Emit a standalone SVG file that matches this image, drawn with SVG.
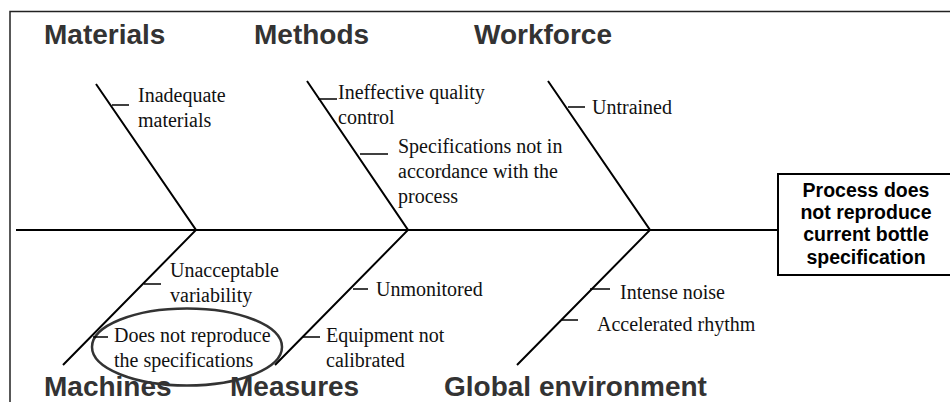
<svg xmlns="http://www.w3.org/2000/svg" width="950" height="402" viewBox="0 0 950 402">
  <style>
    .frame { fill: none; stroke: #222; stroke-width: 1.5; }
    .bone { fill: none; stroke: #000; stroke-width: 2; }
    .tick { fill: none; stroke: #000; stroke-width: 1.5; }
    .head { font-family: "Liberation Sans", Arial, sans-serif; font-weight: bold; font-size: 28px; fill: #333; }
    .cause { font-family: "Liberation Serif", "Times New Roman", "DejaVu Serif", serif; font-size: 20px; fill: #111; }
    .effect { font-family: "Liberation Sans", Arial, sans-serif; font-weight: bold; font-size: 19.5px; fill: #000; text-anchor: middle; }
  </style>
  <rect width="950" height="402" fill="#fff"/>
  <rect class="frame" x="10" y="11.5" width="960" height="420"/>

  <!-- spine and bones -->
  <g id="connectors">
    <line class="bone" x1="16" y1="230" x2="778" y2="230"/>
    <polyline class="bone" points="96,84 196,230 63,365"/>
    <polyline class="bone" points="307,81 408,230 275,365"/>
    <polyline class="bone" points="548,81 650,230 517,365"/>
  </g>

  <g id="effect">
    <rect x="778" y="174" width="180" height="101" fill="#fff" stroke="#000" stroke-width="2"/>
    <text class="effect" x="866" y="197">Process does</text>
    <text class="effect" x="866" y="219">not reproduce</text>
    <text class="effect" x="866" y="241">current bottle</text>
    <text class="effect" x="866" y="264">specification</text>
  </g>

  <g id="materials">
    <text class="head" x="44" y="44">Materials</text>
    <line class="tick" x1="112" y1="105" x2="129" y2="105"/>
    <text class="cause" x="138" y="102">Inadequate</text>
    <text class="cause" x="138" y="127">materials</text>
  </g>

  <g id="methods">
    <text class="head" x="254" y="44">Methods</text>
    <line class="tick" x1="318" y1="99" x2="337" y2="99"/>
    <text class="cause" x="338" y="99">Ineffective quality</text>
    <text class="cause" x="338" y="124">control</text>
    <line class="tick" x1="360" y1="154" x2="388" y2="154"/>
    <text class="cause" x="398" y="153">Specifications not in</text>
    <text class="cause" x="398" y="178">accordance with the</text>
    <text class="cause" x="398" y="203">process</text>
  </g>

  <g id="workforce">
    <text class="head" x="474" y="44">Workforce</text>
    <line class="tick" x1="568" y1="107" x2="585" y2="107"/>
    <text class="cause" x="592" y="114">Untrained</text>
  </g>

  <g id="machines">
    <text class="head" x="44" y="396">Machines</text>
    <line class="tick" x1="144" y1="284" x2="161" y2="284"/>
    <text class="cause" x="170" y="277">Unacceptable</text>
    <text class="cause" x="170" y="302">variability</text>
    <ellipse cx="187" cy="347" rx="95" ry="38.5" fill="none" stroke="#333" stroke-width="2.5"/>
    <line class="tick" x1="93" y1="337" x2="108" y2="337"/>
    <text class="cause" x="114" y="342">Does not reproduce</text>
    <text class="cause" x="114" y="367">the specifications</text>
  </g>

  <g id="measures">
    <text class="head" x="230" y="396">Measures</text>
    <line class="tick" x1="353" y1="289" x2="368" y2="289"/>
    <text class="cause" x="376" y="296">Unmonitored</text>
    <line class="tick" x1="302" y1="337" x2="320" y2="337"/>
    <text class="cause" x="326" y="342">Equipment not</text>
    <text class="cause" x="326" y="367">calibrated</text>
  </g>

  <g id="global-environment">
    <text class="head" x="444" y="396">Global environment</text>
    <line class="tick" x1="590" y1="289" x2="610" y2="289"/>
    <text class="cause" x="620" y="299">Intense noise</text>
    <line class="tick" x1="562" y1="320" x2="578" y2="320"/>
    <text class="cause" x="597" y="331">Accelerated rhythm</text>
  </g>
</svg>
